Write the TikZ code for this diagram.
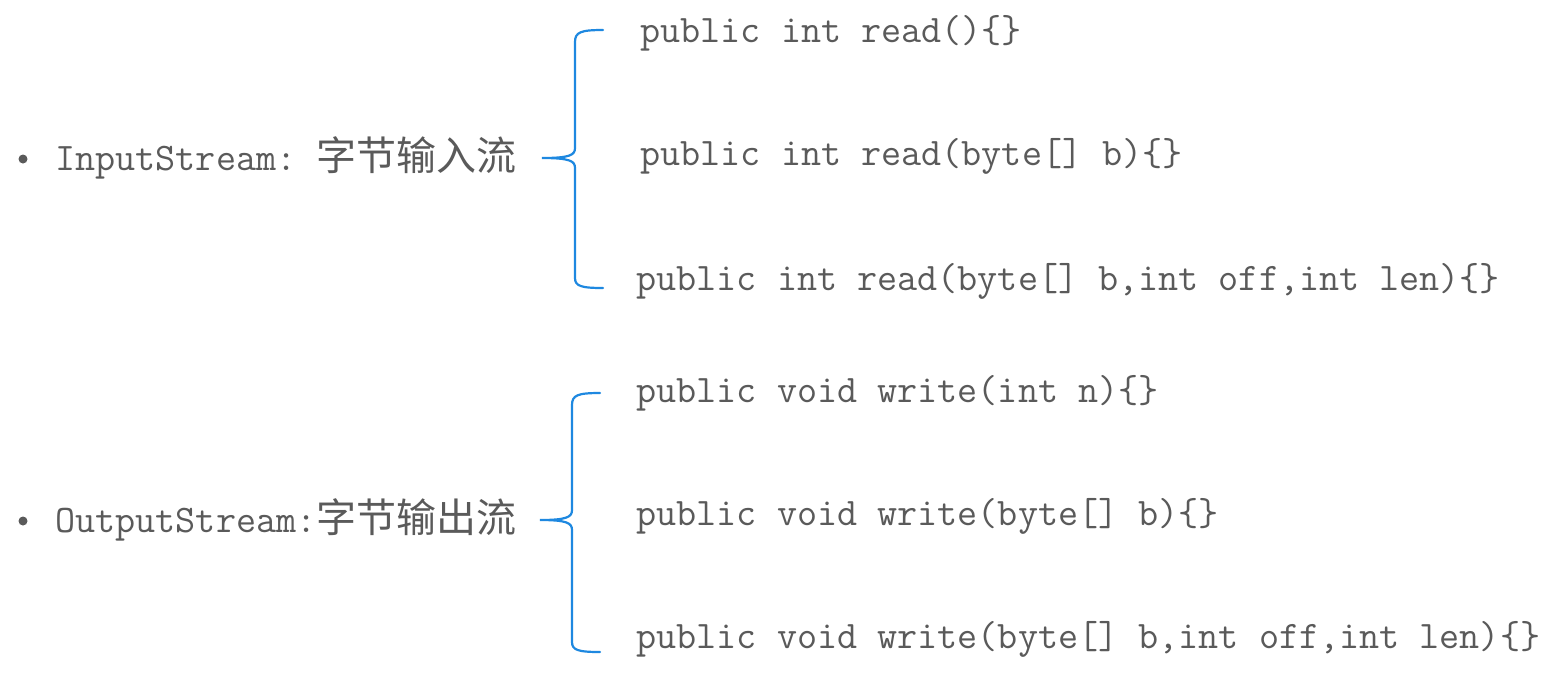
\documentclass[tikz,border=0pt]{standalone}
\usepackage{fontspec}
\newfontfamily\cjk{Noto Sans CJK SC}
\usetikzlibrary{positioning,calc}
\definecolor{inkgray}{HTML}{5A5A5A}
\definecolor{braceblue}{HTML}{1E88E0}
\tikzset{
  streamname/.style={anchor=base west,inner sep=0pt,text=inkgray,font=\fontsize{19.5}{23}\selectfont\ttfamily},
  method/.style={anchor=base west,inner sep=0pt,text=inkgray,font=\fontsize{19.5}{23}\selectfont\ttfamily},
  bracket/.style={draw=braceblue,line width=1.1pt,line cap=round},
  dot/.style={circle,fill=inkgray,inner sep=0pt,minimum size=4.5pt}
}

\begin{document}
\begin{tikzpicture}[x=0.5pt,y=-0.5pt]
        \useasboundingbox[fill=white] (0,0) rectangle (1568,677);
        % input stream
        \node[dot] (b1) at (23,159) {};
        \node[streamname] (in) at (55,170) {InputStream:\hspace{10pt}{\cjk\fontsize{20}{23}\selectfont 字节输入流}};
        \node[method] (r1) at (640,42) {public int read()\{\}};
        \node[method] (r2) at (640,165) {public int read(byte[] b)\{\}};
        \node[method] (r3) at (636,290) {public int read(byte[] b,int off,int len)\{\}};
        \coordinate (tipin) at (542,158);
        \draw[bracket] (603,30) .. controls (581,30) and (575,32) .. (575,42) -- (575,148)
          .. controls (575,155) and (570,158) .. (tipin)
          .. controls (570,158) and (575,161) .. (575,168) -- (575,278)
          .. controls (575,286) and (581,288) .. (603,288);
        % output stream
        \node[dot] (b2) at (23,521) {};
        \node[streamname] (out) at (55,532) {OutputStream:{\cjk\fontsize{20}{23}\selectfont 字节输出流}};
        \node[method] (w1) at (636,402) {public void write(int n)\{\}};
        \node[method] (w2) at (636,525) {public void write(byte[] b)\{\}};
        \node[method] (w3) at (636,648) {public void write(byte[] b,int off,int len)\{\}};
        \coordinate (tipout) at (540,520);
        \draw[bracket] (600,393) .. controls (578,393) and (572,395) .. (572,405) -- (572,510)
          .. controls (572,517) and (567,520) .. (tipout)
          .. controls (567,520) and (572,523) .. (572,530) -- (572,642)
          .. controls (572,650) and (578,652) .. (600,652);
      \end{tikzpicture}
\end{document}
